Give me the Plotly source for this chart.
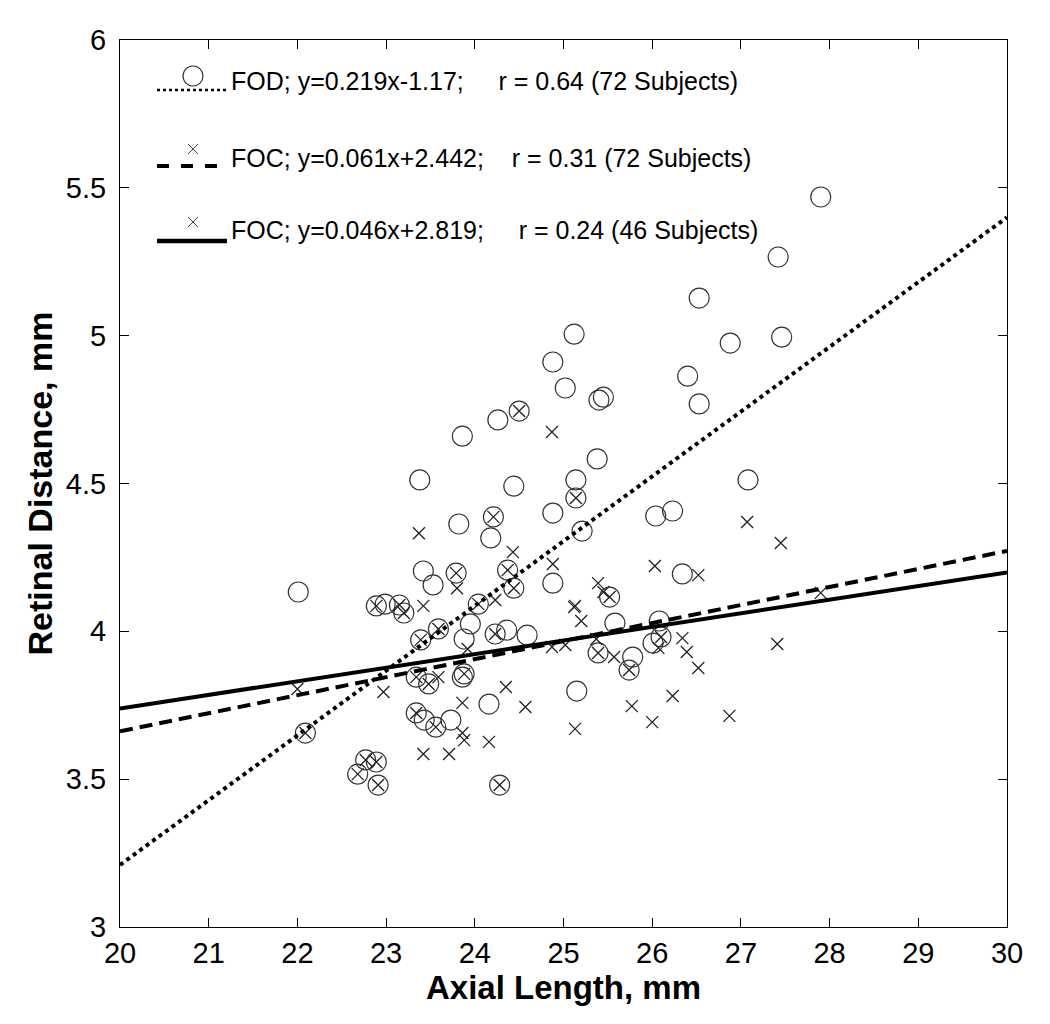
import plotly.graph_objects as go

# ---- data ----
fod_x = [22.01, 22.09, 22.68, 22.77, 22.89, 22.91, 22.89, 22.99, 23.15, 23.20,
         23.34, 23.34, 23.38, 23.39, 23.42, 23.43, 23.48, 23.53, 23.56, 23.59,
         23.73, 23.79, 23.82, 23.86, 23.88, 23.88, 23.86, 23.95, 24.04, 24.16,
         24.18, 24.21, 24.23, 24.26, 24.28, 24.36, 24.37, 24.44, 24.44, 24.50,
         24.59, 24.88, 24.88, 24.88, 25.02, 25.12, 25.14, 25.14, 25.15, 25.21,
         25.38, 25.39, 25.40, 25.45, 25.52, 25.58, 25.74, 25.78, 26.01, 26.04,
         26.08, 26.10, 26.23, 26.34, 26.40, 26.53, 26.53, 26.88, 27.08, 27.42,
         27.46, 27.90]
fod_y = [4.133, 3.656, 3.517, 3.565, 3.558, 3.480, 4.086, 4.092, 4.089, 4.062,
         3.845, 3.724, 4.512, 3.971, 4.204, 3.700, 3.822, 4.157, 3.676, 4.008,
         3.700, 4.197, 4.363, 4.660, 3.974, 3.856, 3.845, 4.025, 4.092, 3.754,
         4.316, 4.387, 3.991, 4.715, 3.480, 4.004, 4.207, 4.491, 4.146, 4.745,
         3.987, 4.911, 4.400, 4.163, 4.823, 5.005, 4.512, 4.451, 3.798, 4.339,
         4.583, 3.927, 4.782, 4.792, 4.116, 4.028, 3.869, 3.913, 3.960, 4.390,
         4.035, 3.981, 4.407, 4.194, 4.863, 5.127, 4.769, 4.975, 4.512, 5.266,
         4.995, 5.469]

foc_x = [22.09, 22.68, 22.77, 22.89, 22.91, 22.89, 23.15, 23.20, 23.34, 23.34,
         23.39, 23.48, 23.56, 23.59, 23.79, 23.88, 24.04, 24.21, 24.23, 24.28,
         24.37, 24.44, 24.50, 25.14, 25.39, 25.52, 25.74, 26.10,
         22.00, 22.97, 23.37, 23.42, 23.42, 23.59, 23.71, 23.80, 23.86, 23.86,
         23.88, 23.92, 24.16, 24.23, 24.35, 24.43, 24.57, 24.87, 24.88, 24.87,
         25.02, 25.12, 25.13, 25.20, 25.13, 25.37, 25.39, 25.45, 25.57, 25.77,
         26.00, 26.03, 26.07, 26.23, 26.34, 26.39, 26.52, 26.52, 26.87, 27.07,
         27.41, 27.45, 27.90]
foc_y = [3.656, 3.517, 3.565, 3.558, 3.480, 4.086, 4.089, 4.062, 3.845, 3.724,
         3.971, 3.822, 3.676, 4.008, 4.197, 3.856, 4.092, 4.387, 3.991, 3.480,
         4.207, 4.146, 4.745, 4.451, 3.927, 4.116, 3.869, 3.981,
         3.805, 3.795, 4.332, 4.086, 3.585, 3.845, 3.585, 4.146, 3.758, 3.656,
         3.632, 3.940, 3.626, 4.106, 3.812, 4.268, 3.744, 4.674, 4.228, 3.947,
         3.954, 4.082, 4.086, 4.035, 3.670, 3.974, 4.163, 4.133, 3.913, 3.747,
         3.693, 4.221, 3.944, 3.781, 3.977, 3.930, 4.190, 3.876, 3.714, 4.370,
         3.957, 4.299, 4.130]

# regression lines (end points)
fit_x = [20, 30]
fod_fit_y = [3.21, 5.40]
foc72_fit_y = [3.662, 4.272]
foc46_fit_y = [3.739, 4.199]

legend_texts = [
    "FOD; y=0.219x-1.17;\u00a0\u00a0\u00a0\u00a0 r = 0.64 (72 Subjects)",
    "FOC; y=0.061x+2.442;\u00a0\u00a0\u00a0 r = 0.31 (72 Subjects)",
    "FOC; y=0.046x+2.819;\u00a0\u00a0\u00a0\u00a0 r = 0.24 (46 Subjects)",
]

x_ticks = list(range(20, 31))
y_ticks = [3, 3.5, 4, 4.5, 5, 5.5, 6]
y_ticklabels = ["3", "3.5", "4", "4.5", "5", "5.5", "6"]

FONT = "Arial, Liberation Sans, sans-serif"

fig = go.Figure()
fig.add_trace(go.Scatter(x=fod_x, y=fod_y, mode="markers",
                         marker=dict(symbol="circle-open", size=20, color="#333333",
                                     line=dict(width=1.2, color="#333333")),
                         showlegend=False))
fig.add_trace(go.Scatter(x=foc_x, y=foc_y, mode="markers",
                         marker=dict(symbol="x-thin-open", size=12, color="#222222",
                                     line=dict(width=1.3, color="#222222")),
                         showlegend=False))
fig.add_trace(go.Scatter(x=fit_x, y=fod_fit_y, mode="lines",
                         line=dict(color="black", width=4, dash="dot"), showlegend=False))
fig.add_trace(go.Scatter(x=fit_x, y=foc72_fit_y, mode="lines",
                         line=dict(color="black", width=4, dash="13px,7px"), showlegend=False))
fig.add_trace(go.Scatter(x=fit_x, y=foc46_fit_y, mode="lines",
                         line=dict(color="black", width=4), showlegend=False))

# ---- plot area as seen on screen (page body adds an 8px offset) ----
OFF = 8
L, R, T, B = 120, 1007, 40, 927
W, H = R - L, B - T


def px(x):
    return (x - L) / W


def py(y):
    return (B - y) / H


shapes = []
rows = [  # (line y, marker y, text y, dash, width, marker)
    (90, 76, 81, "dot", 2.5, "circle"),
    (166, 149, 158, "dash", 4, "x"),
    (241, 222, 230, "solid", 4.5, "x"),
]
for i, (ly, my, ty, dash, lw, mk) in enumerate(rows):
    shapes.append(dict(type="line", xref="paper", yref="paper",
                       x0=px(157), x1=px(227), y0=py(ly), y1=py(ly),
                       line=dict(color="black", width=lw, dash=dash)))
    if mk == "circle":
        r = 10
        shapes.append(dict(type="circle", xref="paper", yref="paper",
                           x0=px(193 - r), x1=px(193 + r), y0=py(my + r), y1=py(my - r),
                           line=dict(color="#333333", width=1.2)))
    else:
        r = 5
        shapes.append(dict(type="line", xref="paper", yref="paper",
                           x0=px(193 - r), x1=px(193 + r), y0=py(my - r), y1=py(my + r),
                           line=dict(color="#444444", width=1)))
        shapes.append(dict(type="line", xref="paper", yref="paper",
                           x0=px(193 - r), x1=px(193 + r), y0=py(my + r), y1=py(my - r),
                           line=dict(color="#444444", width=1)))
    fig.add_annotation(xref="paper", yref="paper", x=px(229), y=py(ty),
                       xanchor="left", yanchor="middle", showarrow=False,
                       text=legend_texts[i], font=dict(family=FONT, size=25, color="black"))

FIG_W, FIG_H = 1050, 1024
fig.update_layout(
    width=FIG_W, height=FIG_H,
    margin=dict(l=L - OFF, r=FIG_W - (R - OFF), t=T - OFF, b=FIG_H - (B - OFF)),
    paper_bgcolor="white", plot_bgcolor="white",
    shapes=shapes,
    font=dict(family=FONT, color="black"),
)
fig.update_xaxes(range=[20, 30], tickvals=x_ticks, ticks="inside", ticklen=9,
                 tickcolor="black", tickwidth=1, showgrid=False, zeroline=False,
                 showline=True, linecolor="black", linewidth=1, mirror="ticks",
                 tickfont=dict(size=29, family=FONT),
                 title=dict(text="<b>Axial Length, mm</b>", font=dict(size=33, family=FONT),
                            standoff=0))
fig.update_yaxes(range=[3, 6], tickvals=y_ticks, ticktext=y_ticklabels, ticks="inside",
                 ticklen=9, tickcolor="black", tickwidth=1, showgrid=False, zeroline=False,
                 showline=True, linecolor="black", linewidth=1, mirror="ticks",
                 ticklabelstandoff=7,
                 tickfont=dict(size=29, family=FONT),
                 title=dict(text="<b>Retinal Distance, mm</b>", font=dict(size=34, family=FONT),
                            standoff=2))

fig.write_html("out.html")
